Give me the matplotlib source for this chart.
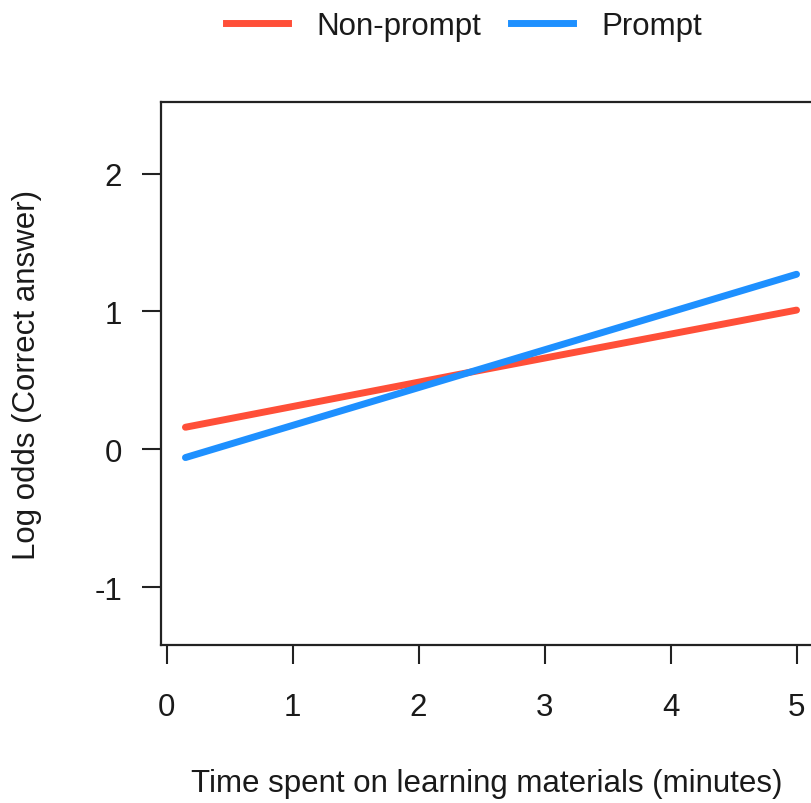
import matplotlib
matplotlib.use("Agg")
import matplotlib.pyplot as plt
from matplotlib.lines import Line2D

# data
time_min = [0.15, 2.3, 5.0]
logodds_nonprompt = [0.16, 0.54, 1.01]
logodds_prompt = [-0.06, 0.53, 1.27]
series_names = ["Non-prompt", "Prompt"]
x_ticks = [0, 1, 2, 3, 4, 5]
y_ticks = [-1, 0, 1, 2]

red = "#FF4F38"
blue = "#1E90FF"

plt.rcParams["font.family"] = ["Liberation Sans", "DejaVu Sans"]
plt.rcParams["axes.unicode_minus"] = False
fs = 22.5

fig = plt.figure(figsize=(8.12, 8.04), dpi=100)
ax = fig.add_axes([161 / 812, 1 - 646 / 804, 660 / 812, 543 / 804])

ax.plot(time_min, logodds_nonprompt, color=red, lw=5, solid_capstyle="round")
ax.plot(time_min, logodds_prompt, color=blue, lw=5, solid_capstyle="round")

ax.set_xlim(-0.044, 5.194)
ax.set_ylim(-1.42, 2.52)
ax.set_xticks(x_ticks)
ax.set_yticks(y_ticks)
ax.tick_params(length=14, width=1.5, color="#222222", labelsize=fs,
               labelcolor="#1a1a1a")
ax.tick_params(axis="x", pad=20)
ax.tick_params(axis="y", pad=14)
for s in ax.spines.values():
    s.set_linewidth(1.6)
    s.set_color("#222222")

fig.text(27 / 812, 1 - 375 / 804, "Log odds (Correct answer)", rotation=90,
         ha="center", va="center", fontsize=fs, color="#1a1a1a")
fig.text(487 / 812, 1 - 784 / 804, "Time spent on learning materials (minutes)",
         ha="center", va="center", fontsize=fs, color="#1a1a1a")

handles = [Line2D([], [], color=red, lw=5), Line2D([], [], color=blue, lw=5)]
fig.legend(handles, series_names, loc="center", ncol=2, frameon=False,
           bbox_to_anchor=(464 / 812, 1 - 27 / 804), fontsize=fs,
           handlelength=2.0, handletextpad=0.9, columnspacing=0.95,
           labelcolor="#1a1a1a")

fig.savefig("out.png", dpi=100)
